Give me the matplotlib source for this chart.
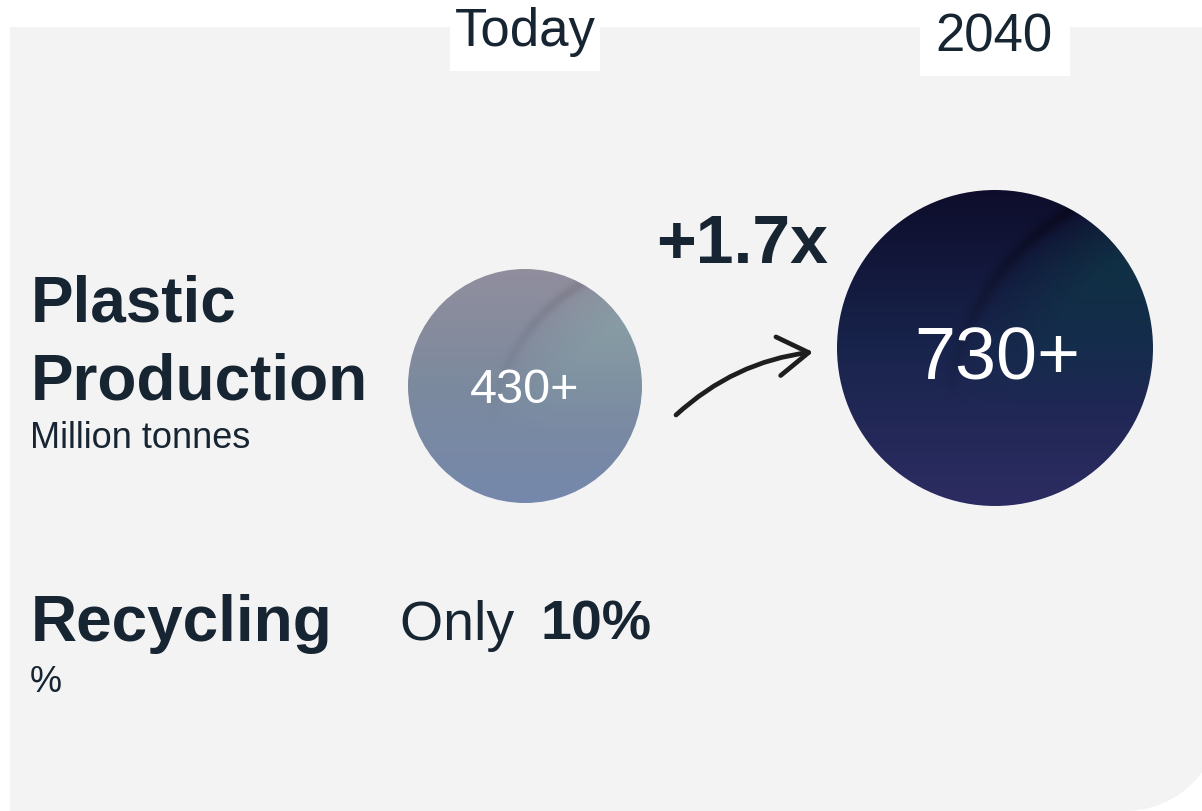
import numpy as np
import matplotlib
matplotlib.use("Agg")
import matplotlib.pyplot as plt
from matplotlib.patches import Circle, Polygon, Rectangle, FancyArrowPatch

plt.rcParams['font.family'] = ['Liberation Sans', 'DejaVu Sans']

# data
periods = ["Today", "2040"]
production = [430, 730]          # million tonnes
growth = "+1.7x"
recycling_share = 10             # %
row_labels = ["Plastic\nProduction", "Recycling"]
row_units = ["Million tonnes", "%"]

DARK = "#172533"
PANEL = "#f3f3f3"

fig = plt.figure(figsize=(12.02, 8.11), dpi=100)
ax = fig.add_axes([0, 0, 1, 1])
ax.set_xlim(0, 1202)
ax.set_ylim(811, 0)
ax.set_aspect("auto")
ax.axis("off")

# grey panel, square corners except a rounded bottom-right one
cx, cy, R = 1125, 715, 96
t = np.linspace(0, np.pi / 2, 40)
arc = np.column_stack([cx + R * np.cos(t), cy + R * np.sin(t)])
pts = np.vstack([[[10, 27], [1230, 27], [1230, cy]], arc, [[10, 811]]])
ax.add_patch(Polygon(pts, closed=True, facecolor=PANEL, edgecolor="none", zorder=0))

# header boxes
headers = [(450, 600, 71, 525, 46), (920, 1070, 76, 994, 51)]
for (x0, x1, h, xt, yt), lab in zip(headers, periods):
    ax.add_patch(Rectangle((x0, 0), x1 - x0, h, facecolor="white", edgecolor="none", zorder=1))
    ax.text(xt, yt, lab, fontsize=38, color=DARK, ha="center", va="baseline", zorder=2)


def bubble(xc, yc, r, top, mid, bot, teal, streak):
    n = 300
    u, v = np.meshgrid(np.linspace(-1, 1, n), np.linspace(-1, 1, n))
    top, mid, bot, teal = [np.array(c, float) / 255 for c in (top, mid, bot, teal)]
    s = (v + 1) / 2
    w1 = np.clip(1 - 2 * s, 0, 1)[..., None]
    w3 = np.clip(2 * s - 1, 0, 1)[..., None]
    img = w1 * top + (1 - w1 - w3) * mid + w3 * bot
    d = np.hypot(u - 1.3, v - 0.5)
    fade = np.clip(1 - (v + 1) / 1.4, 0, 1)
    glow = (np.clip((1.58 - d) / 0.45, 0, 1) * fade)[..., None]
    img = img * (1 - glow * 0.75) + teal * glow * 0.75
    line = (np.exp(-((d - 1.6) / 0.045) ** 2) * fade * streak)[..., None]
    img = img * (1 - line)
    circ = Circle((xc, yc), r, facecolor="none", edgecolor="none", zorder=3)
    ax.add_patch(circ)
    im = ax.imshow(np.clip(img, 0, 1), extent=(xc - r, xc + r, yc + r, yc - r),
                   interpolation="bilinear", zorder=3)
    im.set_clip_path(circ)


centers = [(525, 386), (995, 348)]
radii = [117, 158]
bubble(*centers[0], radii[0], (145, 142, 157), (124, 138, 158), (117, 136, 172),
       (135, 172, 172), 0.1)
bubble(*centers[1], radii[1], (14, 13, 44), (24, 36, 76), (45, 44, 98),
       (12, 74, 78), 0.35)

ax.text(centers[0][0], centers[0][1] + 17, f"{production[0]}+", fontsize=35,
        color="white", ha="center", va="baseline", zorder=4)
ax.text(centers[1][0] + 2, centers[1][1] + 32, f"{production[1]}+", fontsize=53,
        color="white", ha="center", va="baseline", zorder=4)

# growth label and arrow
ax.text(656, 263, growth, fontsize=49, fontweight="bold", color=DARK,
        ha="left", va="baseline", zorder=4)
arr = FancyArrowPatch((676, 415), (813, 352), connectionstyle="arc3,rad=-0.16",
                      arrowstyle="->,head_length=22,head_width=14",
                      mutation_scale=1, lw=3.4, color="#1e1e1e",
                      shrinkA=0, shrinkB=0,
                      capstyle="round", joinstyle="round", zorder=4)
ax.add_patch(arr)

# row labels
ax.text(31, 322, "Plastic", fontsize=46, fontweight="bold", color=DARK, va="baseline")
ax.text(31, 399, "Production", fontsize=46, fontweight="bold", color=DARK, va="baseline")
ax.text(30, 448, row_units[0], fontsize=26, color=DARK, va="baseline")
ax.text(31, 641, row_labels[1], fontsize=46, fontweight="bold", color=DARK, va="baseline")
ax.text(30, 692, row_units[1], fontsize=26, color=DARK, va="baseline")

ax.text(400, 640, "Only ", fontsize=40, color=DARK, va="baseline")
ax.text(540, 640, f"{recycling_share}%", fontsize=40, fontweight="bold", color=DARK,
        va="baseline")

fig.savefig("out.png", dpi=100, facecolor="white")
